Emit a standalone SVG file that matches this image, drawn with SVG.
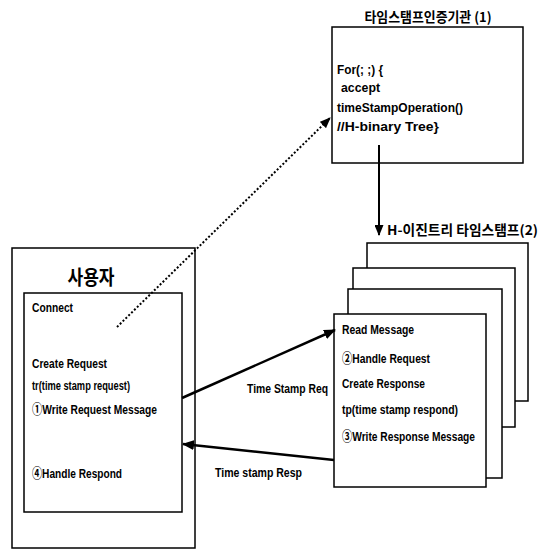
<svg xmlns="http://www.w3.org/2000/svg" width="543" height="549" viewBox="0 0 543 549">
<style>
.box{fill:#fff;stroke:#000;stroke-width:1.5}
.t{font-family:"Liberation Sans","Noto Sans CJK KR",sans-serif;font-size:13.5px;font-weight:bold;fill:#000}
.k{font-family:"Noto Sans CJK KR","Liberation Sans",sans-serif;font-weight:bold;fill:#000}
.ln{fill:none;stroke:#000}
</style>
<defs>
<marker id="ah" viewBox="0 0 12 10" refX="11" refY="5" markerWidth="12" markerHeight="10" markerUnits="userSpaceOnUse" orient="auto">
<path d="M0,0 L12,5 L0,10 Z" fill="#000"/>
</marker>
<marker id="ahs" viewBox="0 0 11 9" refX="10" refY="4.5" markerWidth="11" markerHeight="9" markerUnits="userSpaceOnUse" orient="auto">
<path d="M0,0 L11,4.5 L0,9 Z" fill="#000"/>
</marker>
</defs>
<rect width="543" height="549" fill="#fff"/>

<g id="tsa">
<text class="k" x="428" y="22" font-size="13.5" text-anchor="middle" textLength="127" lengthAdjust="spacingAndGlyphs">타임스탬프인증기관 (1)</text>
<rect class="box" x="332" y="27" width="191" height="136"/>
<text class="t" x="337" y="74" textLength="46" lengthAdjust="spacingAndGlyphs">For(; ;) {</text>
<text class="t" x="341" y="92" textLength="39" lengthAdjust="spacingAndGlyphs">accept</text>
<text class="t" x="337" y="112" textLength="126" lengthAdjust="spacingAndGlyphs">timeStampOperation()</text>
<text class="t" x="337" y="131" textLength="102" lengthAdjust="spacingAndGlyphs">//H-binary Tree}</text>
</g>

<g id="htree">
<text class="k" x="387" y="235" font-size="13.5" textLength="151" lengthAdjust="spacingAndGlyphs">H-이진트리 타임스탬프(2)</text>
<rect class="box" x="367" y="243" width="161" height="158"/>
<rect class="box" x="353" y="268" width="162" height="159"/>
<rect class="box" x="348" y="289" width="154" height="189"/>
<rect class="box" x="334" y="314" width="152" height="173"/>
<text class="t" x="342" y="334" textLength="72" lengthAdjust="spacingAndGlyphs">Read Message</text>
<text class="t" x="342" y="363" textLength="88" lengthAdjust="spacingAndGlyphs">②Handle Request</text>
<text class="t" x="342" y="388" textLength="83" lengthAdjust="spacingAndGlyphs">Create Response</text>
<text class="t" x="342" y="414" textLength="116" lengthAdjust="spacingAndGlyphs">tp(time stamp respond)</text>
<text class="t" x="342" y="441" textLength="133" lengthAdjust="spacingAndGlyphs">③Write Response Message</text>
</g>

<g id="user">
<rect class="box" x="12" y="248" width="183" height="300"/>
<text class="k" x="91" y="285" font-size="20" text-anchor="middle" textLength="47" lengthAdjust="spacingAndGlyphs">사용자</text>
<rect class="box" x="24" y="293" width="158" height="219"/>
<text class="t" x="32" y="312" textLength="41" lengthAdjust="spacingAndGlyphs">Connect</text>
<text class="t" x="32" y="368" textLength="75" lengthAdjust="spacingAndGlyphs">Create Request</text>
<text class="t" x="32" y="390" textLength="98" lengthAdjust="spacingAndGlyphs">tr(time stamp request)</text>
<text class="t" x="32" y="414" textLength="125" lengthAdjust="spacingAndGlyphs">①Write Request Message</text>
<text class="t" x="32" y="478" textLength="90" lengthAdjust="spacingAndGlyphs">④Handle Respond</text>
</g>

<g id="connectors">
<line class="ln" x1="117" y1="327" x2="330" y2="118" stroke-width="2" stroke-dasharray="2,2" marker-end="url(#ahs)"/>
<line class="ln" x1="379" y1="145" x2="379" y2="235" stroke-width="2" marker-end="url(#ahs)"/>
<line class="ln" x1="182" y1="398" x2="335" y2="330" stroke-width="2.5" marker-end="url(#ah)"/>
<line class="ln" x1="334" y1="460" x2="183" y2="444" stroke-width="2.5" marker-end="url(#ah)"/>
<text class="t" x="247" y="393" textLength="81" lengthAdjust="spacingAndGlyphs">Time Stamp Req</text>
<text class="t" x="215" y="477" textLength="87" lengthAdjust="spacingAndGlyphs">Time stamp Resp</text>
</g>
</svg>
